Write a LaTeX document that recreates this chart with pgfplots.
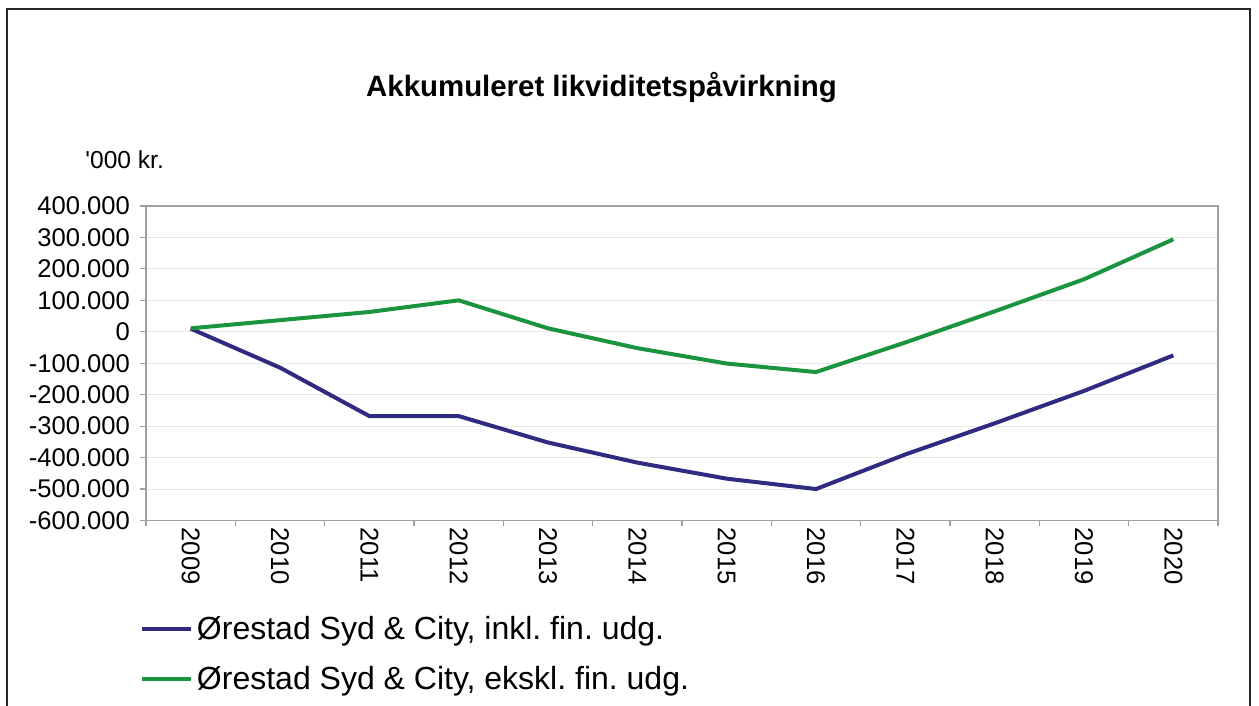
\documentclass[border=0pt]{standalone}
\usepackage{pgfplots}
\pgfplotsset{compat=1.18}
\usepackage{fontspec}
\setmainfont{Liberation Sans}
\newfontfamily\plainfont{Liberation Sans}
\definecolor{navyline}{RGB}{46,43,128}
\definecolor{greenline}{RGB}{26,148,62}
\definecolor{axisgray}{RGB}{160,160,160}
\definecolor{gridgray}{RGB}{232,232,232}
\frenchspacing
\begin{document}
\frenchspacing
\begin{tikzpicture}
\useasboundingbox (0,0) rectangle (629.5pt,353pt);
\draw[line width=0.6pt, black!85] (3.5pt,-5pt) rectangle (625pt,348.5pt);
\node[font=\bfseries\fontsize{14.7}{17}\selectfont] at (300.75pt,309pt) {Akkumuleret likviditetspåvirkning};
\node[anchor=west, inner sep=0pt, font=\plainfont\fontsize{12.3}{14}\selectfont] at (42.5pt,273pt) {'000 kr.};
\begin{axis}[
  at={(73pt,92.75pt)}, anchor=south west,
  scale only axis, width=536pt, height=157.25pt,
  xmin=-0.5, xmax=11.5, ymin=-600000, ymax=400000,
  xtick={-0.5,0.5,...,11.5}, xticklabels={},
  extra x ticks={0,1,2,3,4,5,6,7,8,9,10,11},
  extra x tick labels={2009,2010,2011,2012,2013,2014,2015,2016,2017,2018,2019,2020},
  extra x tick style={major tick length=0pt},
  ytick={-600000,-500000,...,400000},
  scaled y ticks=false,
  /pgf/number format/.cd, fixed, 1000 sep={.}, assume math mode=true, /pgfplots/.cd,
  tick align=outside, major tick length=3pt,
  xtick pos=bottom, ytick pos=left,
  axis line style={axisgray, line width=0.6pt},
  tick style={axisgray, line width=0.6pt},
  ymajorgrids=true,
  major grid style={gridgray, line width=0.5pt},
  tick label style={font=\fontsize{12.8}{15}\selectfont, black},
  xticklabel style={rotate=-90, anchor=west},
  yticklabel style={xshift=-1.5pt},
  legend style={at={(axis description cs:-0.006,-0.29)}, anchor=north west, draw=none, fill=none,
    font=\frenchspacing\fontsize{16}{19}\selectfont, row sep=8pt, inner sep=0pt},
  legend cell align=left,
  legend image code/.code={\draw[#1, line width=2pt] (0pt,0pt) -- (24.5pt,0pt);},
]
\addplot[navyline, line width=2pt] coordinates {(0,10000)(1,-114000)(2,-268000)(3,-268000)(4,-352000)(5,-416000)(6,-467000)(7,-500000)(8,-390000)(9,-291000)(10,-188000)(11,-75000)};
\addplot[greenline, line width=2pt] coordinates {(0,11000)(1,37000)(2,63000)(3,100000)(4,11000)(5,-52000)(6,-101000)(7,-128000)(8,-34000)(9,65000)(10,167000)(11,294000)};
\legend{{Ørestad Syd \& City, inkl. fin. udg.},{Ørestad Syd \& City, ekskl. fin. udg.}}
\end{axis}
\end{tikzpicture}
\end{document}
